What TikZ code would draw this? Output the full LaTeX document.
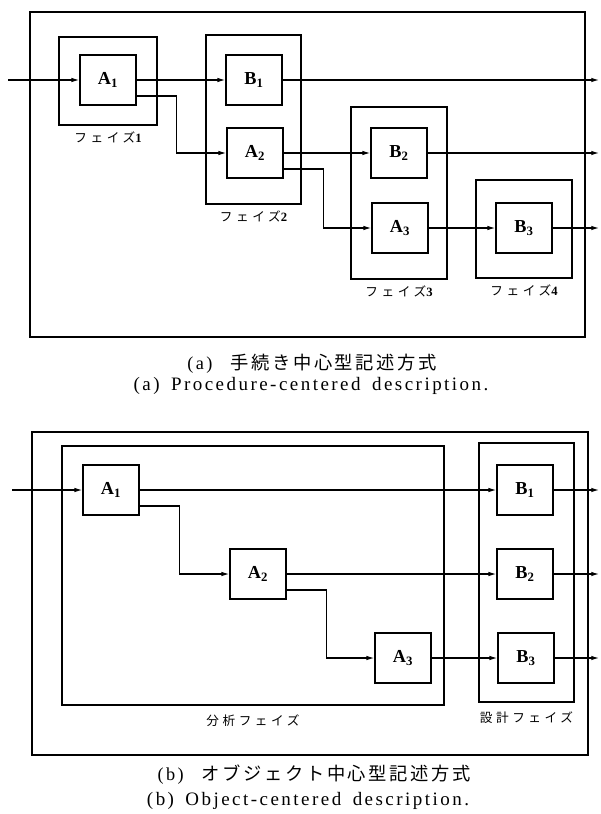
\documentclass[tikz,border=0pt]{standalone}
\usepackage{fontspec}
\setmainfont{Liberation Serif}
\newfontfamily\jpfont[LetterSpace=14]{Noto Sans CJK JP}
\newfontfamily\jpwide[LetterSpace=28]{Noto Sans CJK JP}
\newfontfamily\capfont[LetterSpace=13,WordSpace=1.6]{Liberation Serif}
\usepackage{tikz}
\usetikzlibrary{
  arrows.meta,
  positioning,
  fit
}

\begin{document}
\begin{tikzpicture}[x=0.025cm, y=-0.025cm, node distance=1.5mm,
            procbox/.style={rectangle, draw, line width=1.1pt, minimum width=1.4cm, minimum height=1.25cm, inner sep=0, font=\fontsize{13}{15}\selectfont\bfseries},
            phasebox/.style={rectangle, draw, line width=1.1pt, inner sep=0},
            phaselabel/.style={inner sep=0, font=\fontsize{9}{10}\selectfont\jpwide},
            jpcaption/.style={inner sep=0, font=\fontsize{13}{15}\selectfont},
            encaption/.style={inner sep=0, font=\fontsize{13.5}{15}\selectfont\capfont},
            flow/.style={-{Latex[length=5.5pt,width=3.2pt]}, line width=0.8pt}]
  \useasboundingbox (0,0) rectangle (600,814);

  % (a) procedure-centered
  \node [phasebox, fit={(30,12) (585,337)}] (frameA) {};
  \node [procbox] (pa1) at (108,80) {A\textsubscript{1}};
  \node [procbox] (pb1) at (254,80) {B\textsubscript{1}};
  \node [procbox] (pa2) at (255,153) {A\textsubscript{2}};
  \node [procbox] (pb2) at (399,153) {B\textsubscript{2}};
  \node [procbox] (pa3) at (400,228) {A\textsubscript{3}};
  \node [procbox] (pb3) at (524,228) {B\textsubscript{3}};
  \node [phasebox, fit={(59,37) (157,125)}] (ph1) {};
  \node [phasebox, fit={(206,35) (301,204)}] (ph2) {};
  \node [phasebox, fit={(351,107) (447,279)}] (ph3) {};
  \node [phasebox, fit={(476,180) (572,278)}] (ph4) {};
  \node [phaselabel, below=of ph1] (lab1) {フェイズ{\rmfamily\bfseries 1}};
  \node [phaselabel, below=of ph2] (lab2) {フェイズ{\rmfamily\bfseries 2}};
  \node [phaselabel, below=of ph3] (lab3) {フェイズ{\rmfamily\bfseries 3}};
  \node [phaselabel, below=of ph4] (lab4) {フェイズ{\rmfamily\bfseries 4}};
  \coordinate (pin) at (8,80);
  \coordinate (pout1) at (599,80);
  \coordinate (pout2) at (599,153);
  \coordinate (pout3) at (599,228);
  \draw [flow] (pin) -- (pa1);
  \draw [flow] (pa1) -- (pb1);
  \draw [flow] ([yshift=-.4cm]pa1.east) -- ++(1cm,0) |- (pa2.west);
  \draw [flow] (pa2) -- (pb2);
  \draw [flow] ([yshift=-.4cm]pa2.east) -- ++(1cm,0) |- (pa3.west);
  \draw [flow] (pa3) -- (pb3);
  \draw [flow] (pb1) -- (pout1);
  \draw [flow] (pb2) -- (pout2);
  \draw [flow] (pb3) -- (pout3);
  \node [jpcaption] (capA) at (312,364) {{\capfont (a)}\hspace{1em}{\jpfont 手続き中心型記述方式}};
  \node [encaption] (capAen) at (311,386) {(a)\hspace{0.6em}Procedure-centered description.};

  % (b) object-centered
  \node [phasebox, fit={(32,432) (588,755)}] (frameB) {};
  \node [phasebox, fit={(62,446) (444,705)}] (anl) {};
  \node [phasebox, fit={(479,443) (574,702)}] (dsn) {};
  \node [procbox] (oa1) at (111,490) {A\textsubscript{1}};
  \node [procbox] (oa2) at (258,574) {A\textsubscript{2}};
  \node [procbox] (oa3) at (403,658) {A\textsubscript{3}};
  \node [procbox] (ob1) at (525,490) {B\textsubscript{1}};
  \node [procbox] (ob2) at (525,574) {B\textsubscript{2}};
  \node [procbox] (ob3) at (526,658) {B\textsubscript{3}};
  \node [phaselabel, below=2.2mm of anl] (labanl) {分析フェイズ};
  \node [phaselabel, below=2.2mm of dsn] (labdsn) {設計フェイズ};
  \coordinate (oin) at (12,490);
  \coordinate (oout1) at (599,490);
  \coordinate (oout2) at (599,574);
  \coordinate (oout3) at (599,658);
  \draw [flow] (oin) -- (oa1);
  \draw [flow] (oa1) -- (ob1);
  \draw [flow] ([yshift=-.4cm]oa1.east) -- ++(1cm,0) |- (oa2.west);
  \draw [flow] (oa2) -- (ob2);
  \draw [flow] ([yshift=-.4cm]oa2.east) -- ++(1cm,0) |- (oa3.west);
  \draw [flow] (oa3) -- (ob3);
  \draw [flow] (ob1) -- (oout1);
  \draw [flow] (ob2) -- (oout2);
  \draw [flow] (ob3) -- (oout3);
  \node [jpcaption] (capB) at (314,775) {{\capfont (b)}\hspace{1em}{\jpfont オブジェクト中心型記述方式}};
  \node [encaption] (capBen) at (308,801) {(b)\hspace{0.6em}Object-centered description.};
\end{tikzpicture}
\end{document}
